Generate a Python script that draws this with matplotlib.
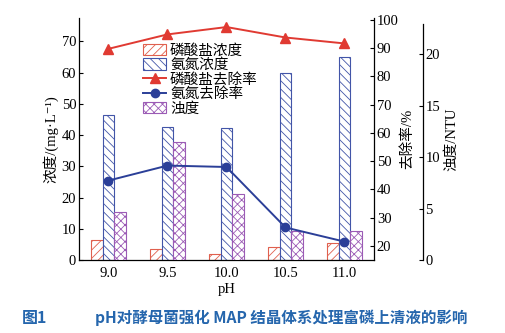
import matplotlib
matplotlib.use("Agg")
import matplotlib.pyplot as plt
from matplotlib.patches import Patch
from matplotlib.lines import Line2D
import numpy as np

plt.rcParams['font.family'] = ['Liberation Serif', 'Noto Sans CJK SC', 'DejaVu Sans']
plt.rcParams['hatch.linewidth'] = 0.6

ph_labels = ["9.0", "9.5", "10.0", "10.5", "11.0"]
phosphate_conc = [6.4, 3.4, 1.9, 4.1, 5.3]        # mg/L
ammonia_conc = [46.3, 42.7, 42.4, 60.0, 65.0]     # mg/L
turbidity = [4.7, 11.45, 6.4, 2.8, 2.85]          # NTU
phosphate_removal = [89.7, 94.8, 97.4, 93.7, 91.6]  # %
ammonia_removal = [43.1, 48.4, 47.9, 26.5, 21.5]    # %

red = "#e03a32"
blue = "#2b3f98"
purple = "#9b5bb5"
bar_red = "#e0604e"
bar_blue = "#4255a8"

x = np.arange(len(ph_labels))
w = 0.2

fig = plt.figure(figsize=(5.06, 3.33), dpi=100)
ax = fig.add_axes([79/506, 1-260/333, 295/506, 242/333])
ax3 = ax.twinx()
ax2 = ax.twinx()

ax.bar(x - w, phosphate_conc, w, facecolor="white", edgecolor=bar_red,
       hatch="////", linewidth=0.8)
ax.bar(x, ammonia_conc, w, facecolor="white", edgecolor=bar_blue,
       hatch="\\\\\\\\", linewidth=0.8)
ax3.bar(x + w, turbidity, w, facecolor="white", edgecolor=purple,
        hatch="xxxx", linewidth=0.8)

ax2.plot(x, phosphate_removal, color=red, marker="^", ms=6.5, lw=1.4)
ax2.plot(x, ammonia_removal, color=blue, marker="o", ms=6, lw=1.4)

ax.set_xlim(-0.5, 4.5)
ax.set_ylim(0, 77.5)
ax2.set_ylim(15, 100.6)
ax3.set_ylim(0, 23.5)

ax.set_xticks(x)
ax.set_xticklabels(ph_labels)
ax.set_yticks(range(0, 71, 10))
ax2.set_yticks(range(20, 101, 10))
ax3.set_yticks(range(0, 21, 5))

for a in (ax, ax2, ax3):
    a.spines['top'].set_visible(False)
    a.tick_params(labelsize=10.5, direction="in", length=3, width=0.8, pad=2)
ax.tick_params(axis="x", length=0, pad=5)
ax.spines['right'].set_visible(False)
ax3.spines['right'].set_position(('outward', 35))
ax3.spines['right'].set_bounds(0, 22.9)
ax3.spines['left'].set_visible(False)
ax2.spines['left'].set_visible(False)
ax3.spines['bottom'].set_visible(False)
ax2.spines['bottom'].set_visible(False)
for a in (ax, ax2, ax3):
    for s in a.spines.values():
        s.set_linewidth(0.9)

ax.set_xlabel("pH", fontsize=10.5, labelpad=2)
ax.set_ylabel("浓度/(mg·L⁻¹)", fontsize=10.5, labelpad=2)
ax2.set_ylabel("去除率/%", fontsize=10.5, labelpad=1)
ax3.set_ylabel("浊度/NTU", fontsize=10.5, labelpad=3)

handles = [
    Patch(facecolor="white", edgecolor=bar_red, hatch="////", linewidth=0.8),
    Patch(facecolor="white", edgecolor=bar_blue, hatch="\\\\\\\\", linewidth=0.8),
    Line2D([], [], color=red, marker="^", ms=6.5, lw=1.4),
    Line2D([], [], color=blue, marker="o", ms=6, lw=1.4),
    Patch(facecolor="white", edgecolor=purple, hatch="xxxx", linewidth=0.8),
]
labels = ["磷酸盐浓度", "氨氮浓度", "磷酸盐去除率", "氨氮去除率", "浊度"]
leg = ax2.legend(handles, labels, loc="upper left",
                 bbox_to_anchor=(143/506, 1-44/333), bbox_transform=fig.transFigure,
                 frameon=False, fontsize=10.5, handlelength=1.6, handleheight=0.8,
                 handletextpad=0.25, labelspacing=0.05, borderpad=0, borderaxespad=0)

cap_color = "#2566ad"
fig.text(22/506, 1-318/333, "图1", fontsize=11.5, color=cap_color,
         family=["Noto Sans CJK SC"], weight="bold", va="center")
fig.text(95/506, 1-318/333, "pH对酵母菌强化 MAP 结晶体系处理富磷上清液的影响",
         fontsize=11.2, color=cap_color, family=["Noto Sans CJK SC"],
         weight="bold", va="center")

fig.savefig("out.png", dpi=100)
